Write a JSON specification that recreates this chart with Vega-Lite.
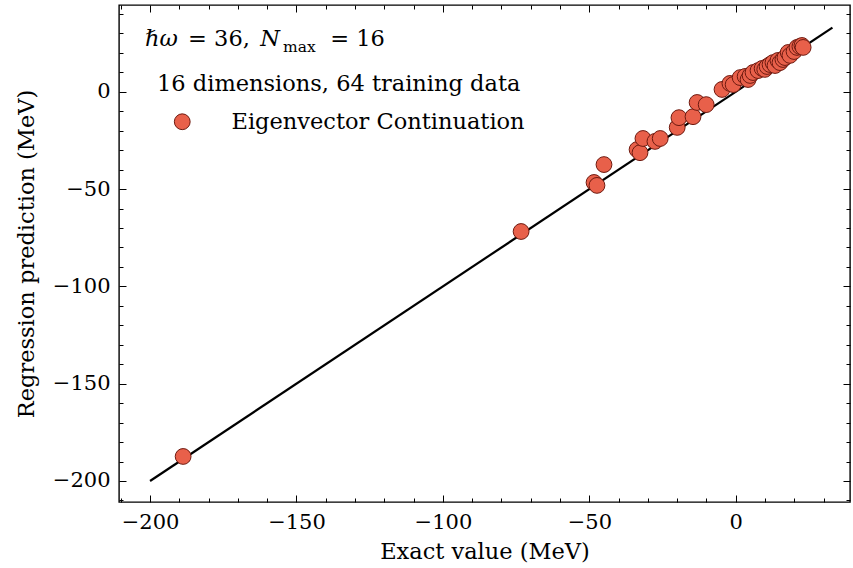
{
  "$schema": "https://vega.github.io/schema/vega-lite/v6.json",
  "width": 731,
  "height": 497,
  "autosize": {"type": "none"},
  "padding": {"left": 119, "top": 5, "right": 3, "bottom": 66},
  "background": "white",
  "config": {
    "view": {"stroke": "black", "strokeWidth": 1.4},
    "axis": {"grid": false, "domain": false, "tickColor": "black", "tickWidth": 1, "labelColor": "black", "titleColor": "black"}
  },
  "resolve": {"axis": {"x": "independent", "y": "independent"}},
  "layer": [
    {
      "data": {"values": [{"x": -200, "y": -200}, {"x": 33, "y": 33}]},
      "mark": {"type": "line", "color": "black", "strokeWidth": 2.2},
      "encoding": {
        "x": {"field": "x", "type": "quantitative",
          "scale": {"domain": [-210.6, 39.0], "nice": false, "zero": false},
          "axis": {"orient": "bottom", "values": [-200, -150, -100, -50, 0], "ticks": false, "labelFont": "DejaVu Serif", "labelFontSize": 21, "labelPadding": 9, "title": "Exact value (MeV)", "titleFont": "DejaVu Serif", "titleFontSize": 22.5, "titleFontWeight": "normal", "titlePadding": 8}},
        "y": {"field": "y", "type": "quantitative",
          "scale": {"domain": [-210.8, 44.6], "nice": false, "zero": false},
          "axis": {"orient": "left", "values": [-200, -150, -100, -50, 0], "ticks": false, "labelFont": "DejaVu Serif", "labelFontSize": 21, "labelPadding": 9, "title": "Regression prediction (MeV)", "titleFont": "DejaVu Serif", "titleFontSize": 22.5, "titleFontWeight": "normal", "titlePadding": 14}}
      }
    },
    {
      "data": {"values": [
        {"ex": -188.7, "pred": -187.4, "series": "Eigenvector Continuation"},
        {"ex": -73.3, "pred": -71.8, "series": "Eigenvector Continuation"},
        {"ex": -48.4, "pred": -46.6, "series": "Eigenvector Continuation"},
        {"ex": -47.4, "pred": -48.1, "series": "Eigenvector Continuation"},
        {"ex": -45.0, "pred": -37.4, "series": "Eigenvector Continuation"},
        {"ex": -33.7, "pred": -29.7, "series": "Eigenvector Continuation"},
        {"ex": -32.7, "pred": -31.3, "series": "Eigenvector Continuation"},
        {"ex": -31.7, "pred": -24.0, "series": "Eigenvector Continuation"},
        {"ex": -27.6, "pred": -25.5, "series": "Eigenvector Continuation"},
        {"ex": -25.8, "pred": -24.0, "series": "Eigenvector Continuation"},
        {"ex": -20.0, "pred": -18.3, "series": "Eigenvector Continuation"},
        {"ex": -19.4, "pred": -13.3, "series": "Eigenvector Continuation"},
        {"ex": -14.6, "pred": -12.8, "series": "Eigenvector Continuation"},
        {"ex": -13.2, "pred": -5.5, "series": "Eigenvector Continuation"},
        {"ex": -10.1, "pred": -6.6, "series": "Eigenvector Continuation"},
        {"ex": -4.7, "pred": 1.2, "series": "Eigenvector Continuation"},
        {"ex": -2.0, "pred": 4.3, "series": "Eigenvector Continuation"},
        {"ex": -0.9, "pred": 3.7, "series": "Eigenvector Continuation"},
        {"ex": 1.5, "pred": 7.3, "series": "Eigenvector Continuation"},
        {"ex": 3.2, "pred": 7.9, "series": "Eigenvector Continuation"},
        {"ex": 4.2, "pred": 6.3, "series": "Eigenvector Continuation"},
        {"ex": 4.9, "pred": 8.4, "series": "Eigenvector Continuation"},
        {"ex": 5.9, "pred": 9.9, "series": "Eigenvector Continuation"},
        {"ex": 7.6, "pred": 10.9, "series": "Eigenvector Continuation"},
        {"ex": 9.0, "pred": 12.0, "series": "Eigenvector Continuation"},
        {"ex": 9.9, "pred": 11.5, "series": "Eigenvector Continuation"},
        {"ex": 10.7, "pred": 13.0, "series": "Eigenvector Continuation"},
        {"ex": 11.7, "pred": 14.0, "series": "Eigenvector Continuation"},
        {"ex": 12.7, "pred": 15.0, "series": "Eigenvector Continuation"},
        {"ex": 13.4, "pred": 13.5, "series": "Eigenvector Continuation"},
        {"ex": 14.4, "pred": 16.1, "series": "Eigenvector Continuation"},
        {"ex": 15.1, "pred": 15.0, "series": "Eigenvector Continuation"},
        {"ex": 16.1, "pred": 16.6, "series": "Eigenvector Continuation"},
        {"ex": 16.8, "pred": 17.6, "series": "Eigenvector Continuation"},
        {"ex": 17.9, "pred": 20.2, "series": "Eigenvector Continuation"},
        {"ex": 18.5, "pred": 18.7, "series": "Eigenvector Continuation"},
        {"ex": 19.9, "pred": 20.7, "series": "Eigenvector Continuation"},
        {"ex": 20.9, "pred": 22.8, "series": "Eigenvector Continuation"},
        {"ex": 21.9, "pred": 23.3, "series": "Eigenvector Continuation"},
        {"ex": 22.6, "pred": 23.8, "series": "Eigenvector Continuation"},
        {"ex": 23.0, "pred": 22.8, "series": "Eigenvector Continuation"}
      ]},
      "mark": {"type": "point", "shape": "circle", "filled": true, "size": 250, "stroke": "#6E1A10", "strokeWidth": 1, "opacity": 1},
      "encoding": {
        "x": {"field": "ex", "type": "quantitative",
          "scale": {"domain": [-210.6, 39.0], "nice": false, "zero": false},
          "axis": {"orient": "bottom", "values": [-200, -150, -100, -50, 0], "labels": false, "tickSize": 7, "offset": -7, "title": null}},
        "y": {"field": "pred", "type": "quantitative",
          "scale": {"domain": [-210.8, 44.6], "nice": false, "zero": false},
          "axis": {"orient": "left", "values": [-200, -150, -100, -50, 0], "labels": false, "tickSize": 7, "offset": -7, "title": null}},
        "fill": {"field": "series", "type": "nominal", "scale": {"range": ["#E8604A"]},
          "legend": {"orient": "none", "legendX": 38, "legendY": 68, "padding": 0, "title": "16 dimensions, 64 training data", "titleFont": "DejaVu Serif", "titleFontSize": 22.5, "titleFontWeight": "normal", "titleColor": "black", "titleLimit": 600, "titlePadding": 15, "labelFont": "DejaVu Serif", "labelFontSize": 22.5, "labelColor": "black", "labelLimit": 600, "labelOffset": 38, "symbolType": "circle", "symbolSize": 250, "symbolStrokeColor": "#6E1A10", "symbolStrokeWidth": 1, "symbolOpacity": 1, "symbolOffset": 14}}
      }
    },
    {
      "data": {"values": [{"t": "ℏω", "x": -201.7, "y": 23.3}, {"t": "N", "x": -162.4, "y": 23.3}]},
      "mark": {"type": "text", "font": "DejaVu Serif", "fontSize": 22.5, "fontStyle": "italic", "align": "left", "baseline": "alphabetic", "color": "black"},
      "encoding": {
        "x": {"field": "x", "type": "quantitative",
          "scale": {"domain": [-210.6, 39.0], "nice": false, "zero": false},
          "axis": {"orient": "bottom", "values": [-210, -190, -180, -170, -160, -140, -130, -120, -110, -90, -80, -70, -60, -40, -30, -20, -10, 10, 20, 30], "labels": false, "tickSize": 4, "offset": -4, "title": null}},
        "y": {"field": "y", "type": "quantitative",
          "scale": {"domain": [-210.8, 44.6], "nice": false, "zero": false},
          "axis": {"orient": "left", "values": [-210, -190, -180, -170, -160, -140, -130, -120, -110, -90, -80, -70, -60, -40, -30, -20, -10, 10, 20, 30, 40], "labels": false, "tickSize": 4, "offset": -4, "title": null}},
        "text": {"field": "t", "type": "nominal"}
      }
    },
    {
      "data": {"values": [{"t": "= 36,", "x": -187.0, "y": 23.3}, {"t": "= 16", "x": -138.5, "y": 23.3}]},
      "mark": {"type": "text", "font": "DejaVu Serif", "fontSize": 22.5, "align": "left", "baseline": "alphabetic", "color": "black"},
      "encoding": {
        "x": {"field": "x", "type": "quantitative",
          "scale": {"domain": [-210.6, 39.0], "nice": false, "zero": false},
          "axis": {"orient": "top", "values": [-200, -150, -100, -50, 0], "labels": false, "tickSize": 7, "offset": -7, "title": null}},
        "y": {"field": "y", "type": "quantitative",
          "scale": {"domain": [-210.8, 44.6], "nice": false, "zero": false},
          "axis": {"orient": "right", "values": [-200, -150, -100, -50, 0], "labels": false, "tickSize": 7, "offset": -7, "title": null}},
        "text": {"field": "t", "type": "nominal"}
      }
    },
    {
      "data": {"values": [{"t": "max", "x": -154.6, "y": 20.2}]},
      "mark": {"type": "text", "font": "DejaVu Serif", "fontSize": 15.5, "align": "left", "baseline": "alphabetic", "color": "black"},
      "encoding": {
        "x": {"field": "x", "type": "quantitative",
          "scale": {"domain": [-210.6, 39.0], "nice": false, "zero": false},
          "axis": {"orient": "top", "values": [-210, -190, -180, -170, -160, -140, -130, -120, -110, -90, -80, -70, -60, -40, -30, -20, -10, 10, 20, 30], "labels": false, "tickSize": 4, "offset": -4, "title": null}},
        "y": {"field": "y", "type": "quantitative",
          "scale": {"domain": [-210.8, 44.6], "nice": false, "zero": false},
          "axis": {"orient": "right", "values": [-210, -190, -180, -170, -160, -140, -130, -120, -110, -90, -80, -70, -60, -40, -30, -20, -10, 10, 20, 30, 40], "labels": false, "tickSize": 4, "offset": -4, "title": null}},
        "text": {"field": "t", "type": "nominal"}
      }
    }
  ]
}
